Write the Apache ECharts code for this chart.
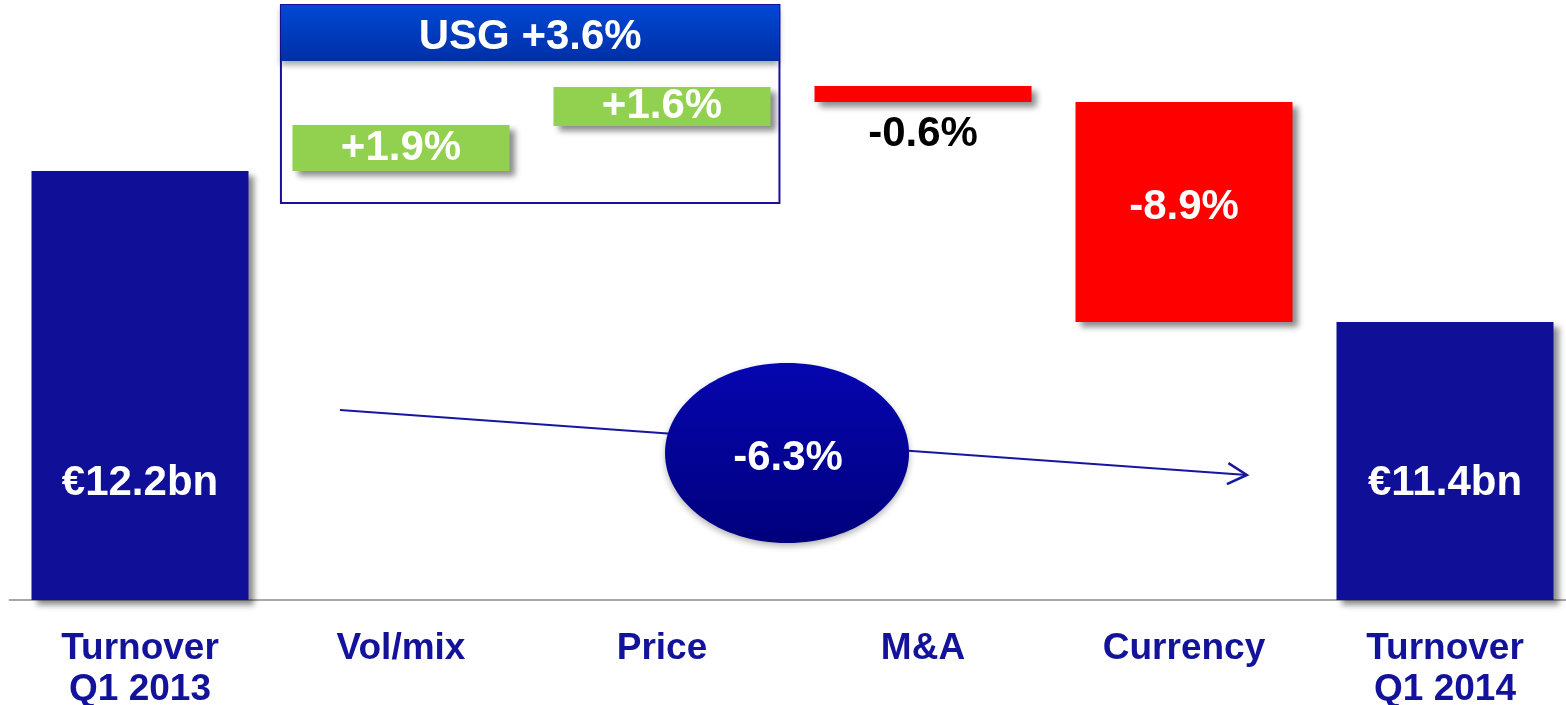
<!DOCTYPE html>
<html>
<head>
<meta charset="utf-8">
<script src="https://cdn.jsdelivr.net/npm/echarts@6/dist/echarts.min.js"></script>
<style>
    html, body {margin: 0; padding: 0; background: #fff;}
    #main {width: 1566px; height: 705px;}
</style>
</head>
<body>
<div id="main"></div>
<script>
var categories = ['Turnover\nQ1 2013', 'Vol/mix', 'Price', 'M&A', 'Currency', 'Turnover\nQ1 2014'];
// bridge is drawn schematically: bottoms and tops (0 = axis line)
var barBase = [0, 429, 474, 498, 278, 0];
var barTop = [429, 475, 513, 514, 498, 278];
var barLabels = ['€12.2bn', '+1.9%', '+1.6%', '-0.6%', '-8.9%', '€11.4bn'];
var barKinds = ['total', 'up', 'up', 'down', 'down', 'total'];
var usgLabel = 'USG +3.6%';
var totalChangeLabel = '-6.3%';

var FONT = 'Liberation Sans, Arial, sans-serif';
var colors = {total: '#100f97', up: '#92d050', down: '#ff0000'};

var visible = barTop.map(function (t, i) {
    var h = t - barBase[i];
    var label = {show: true, formatter: barLabels[i], color: '#fff'};
    if (barKinds[i] === 'total') {
        label.position = 'insideBottom';
        label.distance = 96;
    } else if (h < 30) {
        // too thin, label sits under the bar
        label.position = 'bottom';
        label.distance = 11;
        label.color = '#000';
    } else if (h > 100) {
        label.position = 'insideTop';
        label.distance = 84;
    } else {
        label.position = 'inside';
        label.padding = [4, 0, 0, 0];
    }
    return {value: h, itemStyle: {color: colors[barKinds[i]]}, label: label};
});

var option = {
    animation: false,
    grid: {left: 9.5, right: -9.5, top: 0, bottom: 105, containLabel: false, outerBoundsMode: 'none'},
    xAxis: {
        type: 'category',
        data: categories,
        axisTick: {show: false},
        axisLine: {lineStyle: {color: '#a8a8a8', width: 2}},
        axisLabel: {
            interval: 0, margin: 28, color: '#12129a', fontFamily: FONT,
            fontWeight: 'bold', fontSize: 37, lineHeight: 41
        }
    },
    yAxis: {type: 'value', min: 0, max: 600, show: false, splitLine: {show: false}},
    series: [
        {
            type: 'bar', stack: 'w', barWidth: 217, silent: true,
            itemStyle: {color: 'transparent'},
            data: barBase
        },
        {
            type: 'bar', stack: 'w', barWidth: 217,
            itemStyle: {
                shadowColor: 'rgba(0,0,0,0.45)', shadowBlur: 6,
                shadowOffsetX: 5, shadowOffsetY: 5
            },
            label: {fontFamily: FONT, fontWeight: 'bold', fontSize: 42, lineHeight: 42},
            data: visible
        }
    ]
};

var chart = echarts.init(document.getElementById('main'));
chart.setOption(option);

function pt(cat, val) {
    var a = chart.convertToPixel({gridIndex: 0}, [0, val]);
    var b = chart.convertToPixel({gridIndex: 0}, [1, val]);
    return [a[0] + (b[0] - a[0]) * cat, a[1]];
}

function centerText(x, y, text) {
    return {
        type: 'text', z: 20, x: x, y: y,
        style: {
            text: text, fill: '#fff', font: 'bold 42px ' + FONT,
            textAlign: 'center', textVerticalAlign: 'middle',
            align: 'center', verticalAlign: 'middle'
        }
    };
}

var boxTL = pt(0.54, 595), boxHead = pt(2.45, 539), boxBR = pt(2.45, 397);
var ell = pt(2.479, 147);
var a0 = pt(0.766, 190), a1 = pt(4.241, 125);
var ang = Math.atan2(a1[1] - a0[1], a1[0] - a0[0]) + Math.PI;
var w1 = [a1[0] + 22 * Math.cos(ang + 0.5), a1[1] + 22 * Math.sin(ang + 0.5)];
var w2 = [a1[0] + 22 * Math.cos(ang - 0.5), a1[1] + 22 * Math.sin(ang - 0.5)];

chart.setOption({
    graphic: [
        {
            type: 'rect', z: 5,
            shape: {x: boxTL[0], y: boxTL[1], width: boxBR[0] - boxTL[0], height: boxBR[1] - boxTL[1]},
            style: {fill: 'none', stroke: '#1a0e9a', lineWidth: 2}
        },
        {
            type: 'rect', z: 6,
            shape: {x: boxTL[0], y: boxTL[1], width: boxHead[0] - boxTL[0], height: boxHead[1] - boxTL[1]},
            style: {
                fill: {type: 'linear', x: 0, y: 0, x2: 0, y2: 1,
                    colorStops: [{offset: 0, color: '#0048d4'}, {offset: 1, color: '#002fa6'}]},
                shadowColor: 'rgba(0,0,0,0.35)', shadowBlur: 6, shadowOffsetY: 4
            }
        },
        centerText((boxTL[0] + boxHead[0]) / 2, (boxTL[1] + boxHead[1]) / 2 + 4, usgLabel),
        {
            type: 'line', z: 5,
            shape: {x1: a0[0], y1: a0[1], x2: a1[0], y2: a1[1]},
            style: {stroke: '#1616a0', lineWidth: 2}
        },
        {
            type: 'polyline', z: 5,
            shape: {points: [w1, a1, w2]},
            style: {stroke: '#1616a0', lineWidth: 2.5, fill: null}
        },
        {
            type: 'ellipse', z: 10,
            shape: {cx: ell[0], cy: ell[1], rx: 122, ry: 90},
            style: {
                fill: {type: 'linear', x: 0, y: 0, x2: 0, y2: 1,
                    colorStops: [{offset: 0, color: '#0606b0'}, {offset: 1, color: '#00007c'}]},
                shadowColor: 'rgba(0,0,0,0.3)', shadowBlur: 6, shadowOffsetY: 3
            }
        },
        centerText(ell[0] + 1, ell[1] + 5, totalChangeLabel)
    ]
});
</script>
</body>
</html>
